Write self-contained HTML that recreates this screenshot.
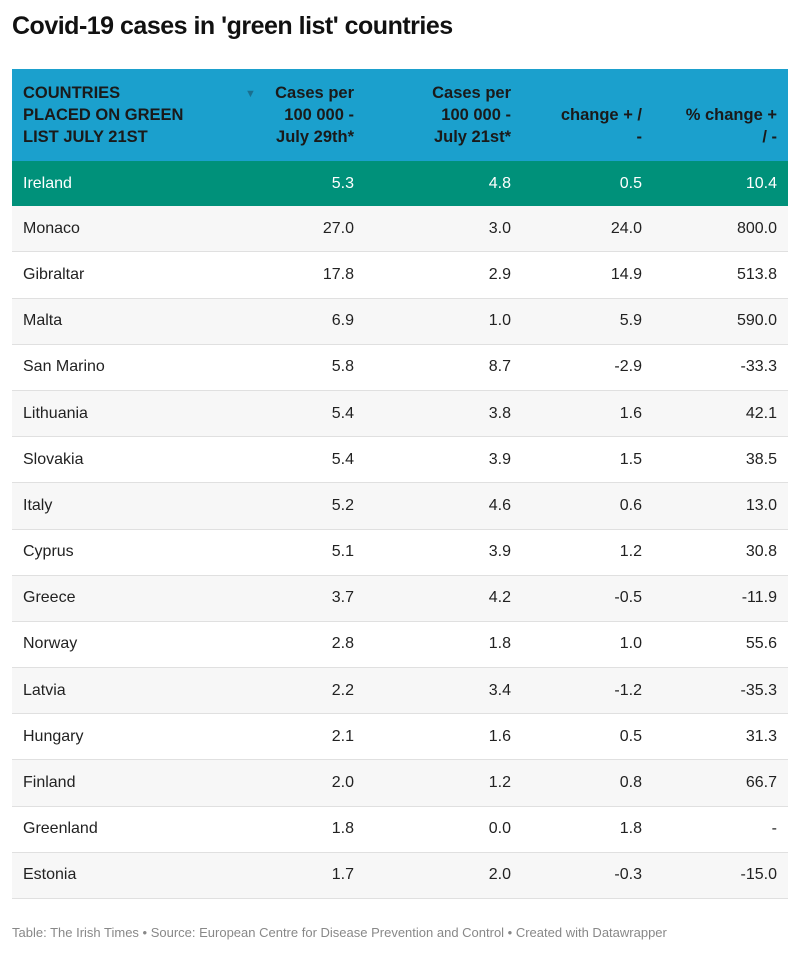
<!DOCTYPE html>
<html><head><meta charset="utf-8"><style>
body{margin:0;width:800px;height:980px;background:#fff;font-family:"Liberation Sans",Arial,sans-serif;color:#222;position:relative}
h1{position:absolute;left:12px;top:12px;margin:0;font-size:25px;font-weight:bold;color:#111;letter-spacing:-0.5px}
table{position:absolute;left:12px;top:161px;width:776px;border-collapse:collapse;font-size:16px;table-layout:fixed}
td{height:45.2px;padding:0;border-bottom:1px solid #e0e0e0;white-space:nowrap}
tr:nth-child(even) td{background:#f7f7f7}
tr.g td{background:#00917a;color:#fff;border-bottom:none}
.l{text-align:left;padding-left:11px}
.r{text-align:right}
.c5{padding-right:11px}
.foot{position:absolute;left:12px;top:925px;font-size:13px;color:#888}
</style></head><body>
<h1>Covid-19 cases in 'green list' countries</h1>
<div style="position:absolute;left:12px;top:69px;width:776px;height:92px;background:#1ba0cd;font-weight:bold;font-size:16.5px;line-height:22px;color:#1a1a1a">
<div style="position:absolute;left:11px;top:13px">COUNTRIES<br>PLACED ON GREEN<br>LIST JULY 21ST</div>
<div style="position:absolute;left:233px;top:14px;font-size:11px;color:#1a6f8f">▼</div>
<div style="position:absolute;right:434px;top:13px;text-align:right">Cases per<br>100 000 -<br>July 29th*</div>
<div style="position:absolute;right:277px;top:13px;text-align:right">Cases per<br>100 000 -<br>July 21st*</div>
<div style="position:absolute;right:146px;top:35px;text-align:right">change + /<br>-</div>
<div style="position:absolute;right:11px;top:35px;text-align:right">% change +<br>/ -</div>
</div>
<table>
<colgroup><col style="width:242px"><col style="width:100px"><col style="width:157px"><col style="width:131px"><col style="width:146px"></colgroup>
<tr class="g"><td class="l">Ireland</td><td class="r">5.3</td><td class="r">4.8</td><td class="r">0.5</td><td class="r c5">10.4</td></tr>
<tr><td class="l">Monaco</td><td class="r">27.0</td><td class="r">3.0</td><td class="r">24.0</td><td class="r c5">800.0</td></tr>
<tr><td class="l">Gibraltar</td><td class="r">17.8</td><td class="r">2.9</td><td class="r">14.9</td><td class="r c5">513.8</td></tr>
<tr><td class="l">Malta</td><td class="r">6.9</td><td class="r">1.0</td><td class="r">5.9</td><td class="r c5">590.0</td></tr>
<tr><td class="l">San Marino</td><td class="r">5.8</td><td class="r">8.7</td><td class="r">-2.9</td><td class="r c5">-33.3</td></tr>
<tr><td class="l">Lithuania</td><td class="r">5.4</td><td class="r">3.8</td><td class="r">1.6</td><td class="r c5">42.1</td></tr>
<tr><td class="l">Slovakia</td><td class="r">5.4</td><td class="r">3.9</td><td class="r">1.5</td><td class="r c5">38.5</td></tr>
<tr><td class="l">Italy</td><td class="r">5.2</td><td class="r">4.6</td><td class="r">0.6</td><td class="r c5">13.0</td></tr>
<tr><td class="l">Cyprus</td><td class="r">5.1</td><td class="r">3.9</td><td class="r">1.2</td><td class="r c5">30.8</td></tr>
<tr><td class="l">Greece</td><td class="r">3.7</td><td class="r">4.2</td><td class="r">-0.5</td><td class="r c5">-11.9</td></tr>
<tr><td class="l">Norway</td><td class="r">2.8</td><td class="r">1.8</td><td class="r">1.0</td><td class="r c5">55.6</td></tr>
<tr><td class="l">Latvia</td><td class="r">2.2</td><td class="r">3.4</td><td class="r">-1.2</td><td class="r c5">-35.3</td></tr>
<tr><td class="l">Hungary</td><td class="r">2.1</td><td class="r">1.6</td><td class="r">0.5</td><td class="r c5">31.3</td></tr>
<tr><td class="l">Finland</td><td class="r">2.0</td><td class="r">1.2</td><td class="r">0.8</td><td class="r c5">66.7</td></tr>
<tr><td class="l">Greenland</td><td class="r">1.8</td><td class="r">0.0</td><td class="r">1.8</td><td class="r c5">-</td></tr>
<tr><td class="l">Estonia</td><td class="r">1.7</td><td class="r">2.0</td><td class="r">-0.3</td><td class="r c5">-15.0</td></tr>
</table>
<div class="foot">Table: The Irish Times • Source: European Centre for Disease Prevention and Control • Created with Datawrapper</div>
</body></html>
